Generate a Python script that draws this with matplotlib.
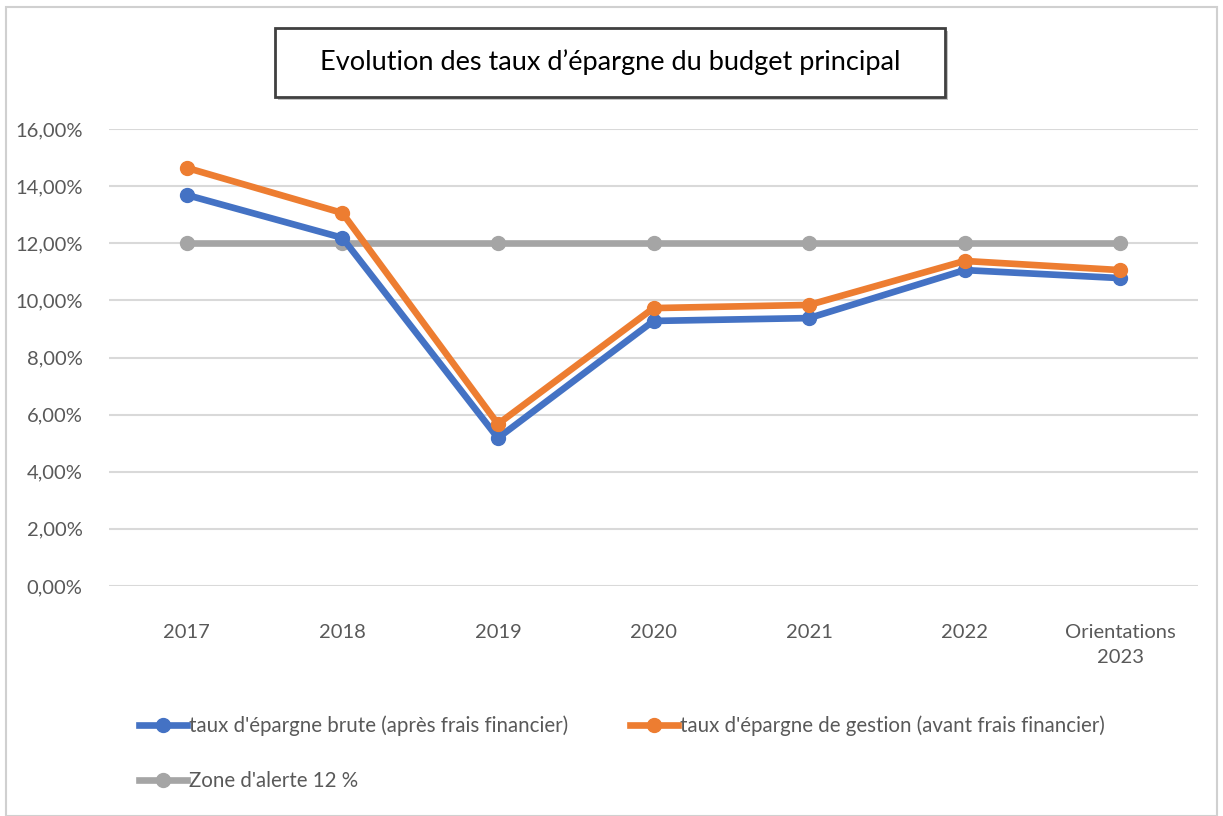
import matplotlib
matplotlib.use('Agg')
import matplotlib.pyplot as plt
from matplotlib.patches import Rectangle
from matplotlib.ticker import FuncFormatter

plt.rcParams['font.family'] = ['Lato', 'DejaVu Sans']

categories = ['2017', '2018', '2019', '2020', '2021', '2022', 'Orientations\n2023']
brute = [13.69, 12.19, 5.18, 9.28, 9.38, 11.06, 10.78]
gestion = [14.64, 13.06, 5.67, 9.73, 9.84, 11.38, 11.06]
alerte = [12, 12, 12, 12, 12, 12, 12]

title = 'Evolution des taux d\u2019épargne du budget principal'
labels = ["taux d'épargne brute (après frais financier)",
          "taux d'épargne de gestion (avant frais financier)",
          "Zone d'alerte 12 %"]
colors = ['#4472C4', '#ED7D31', '#A5A5A5']
grey_txt = '#595959'

fig = plt.figure(figsize=(12.23, 8.16), dpi=100)
W, H = 1223, 816

# outer chart border
fig.add_artist(Rectangle((6 / W, 0), 1211 / W, 1 - 7 / H, transform=fig.transFigure,
                         fill=False, edgecolor='#D0D0D0', linewidth=1.5))

ax = fig.add_axes([109 / W, 1 - 586 / H, 1089 / W, 457 / H])
x = range(len(categories))

h3, = ax.plot(x, alerte, color=colors[2], lw=4.8, marker='o', ms=10, zorder=2)
h1, = ax.plot(x, brute, color=colors[0], lw=4.8, marker='o', ms=10, zorder=3)
h2, = ax.plot(x, gestion, color=colors[1], lw=4.8, marker='o', ms=10, zorder=4)

ax.set_xlim(-0.5, len(categories) - 0.5)
ax.set_ylim(0, 16)
ax.set_yticks(range(0, 17, 2))
ax.yaxis.set_major_formatter(FuncFormatter(lambda v, p: f'{v:.2f}%'.replace('.', ',')))
ax.set_xticks(list(x))
ax.set_xticklabels(categories, linespacing=1.6)
ax.grid(axis='y', color='#D9D9D9', lw=1.5)
ax.set_axisbelow(True)
for s in ax.spines.values():
    s.set_visible(False)
ax.tick_params(length=0, labelsize=14.5, labelcolor=grey_txt)
ax.tick_params(axis='y', pad=19)
ax.tick_params(axis='x', pad=27)

# title box with shadow
fig.add_artist(Rectangle((278 / W, 1 - 100 / H), 670 / W, 69 / H, transform=fig.transFigure,
                         facecolor='#9A9A9A', edgecolor='none', alpha=0.6))
fig.add_artist(Rectangle((275 / W, 1 - 97 / H), 670 / W, 69 / H, transform=fig.transFigure,
                         facecolor='white', edgecolor='#404040', linewidth=2))
fig.text(610 / W, 1 - 62 / H, title, ha='center', va='center', fontsize=19.5, color='black')

leg = fig.legend([h1, h3, h2], [labels[0], labels[2], labels[1]], ncol=2,
                 loc='upper left', bbox_to_anchor=(120 / W, 1 - 697 / H),
                 frameon=False, fontsize=14.8, labelcolor=grey_txt,
                 handlelength=2.35, handletextpad=0.1, columnspacing=3.0,
                 labelspacing=1.7)

fig.savefig('out.png', dpi=100)
